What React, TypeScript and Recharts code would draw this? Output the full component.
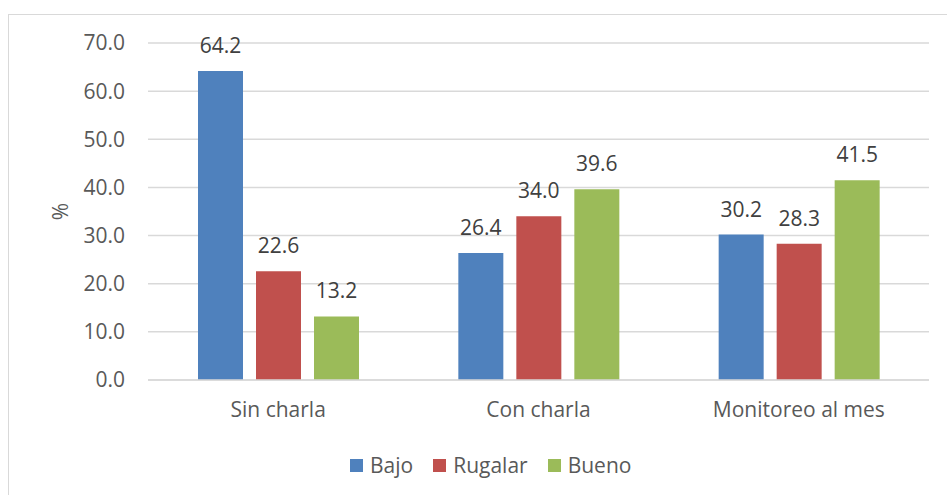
import React from 'react';
import { BarChart, Bar, XAxis, YAxis, CartesianGrid, Legend, LabelList } from 'recharts';

const categorias = ['Sin charla', 'Con charla', 'Monitoreo al mes'];
const bajo = [64.2, 26.4, 30.2];
const rugalar = [22.6, 34.0, 28.3];
const bueno = [13.2, 39.6, 41.5];
const ticksY = [0, 10, 20, 30, 40, 50, 60, 70];

const SERIES = [
  { key: 'bajo', name: 'Bajo', color: '#4f81bd' },
  { key: 'rugalar', name: 'Rugalar', color: '#c0504d' },
  { key: 'bueno', name: 'Bueno', color: '#9bbb59' },
];

const data = categorias.map((cat, i) => ({
  cat,
  bajo: bajo[i],
  rugalar: rugalar[i],
  bueno: bueno[i],
}));

const FONT = '"Open Sans", sans-serif';
const FS = 21;

const renderLegend = () => (
  <div style={{ display: 'flex', alignItems: 'center', paddingLeft: 350, height: 30, fontFamily: FONT, fontSize: FS, color: '#595959' }}>
    {SERIES.map((s) => (
      <div key={s.key} style={{ display: 'flex', alignItems: 'center', marginRight: 20 }}>
        <span style={{ width: 13, height: 13, background: s.color, marginRight: 7, display: 'inline-block' }} />
        <span>{s.name}</span>
      </div>
    ))}
  </div>
);

const PctLabel = (props: any) => {
  const vb = props.viewBox;
  const cy = vb.y + vb.height / 2;
  return (
    <text x={60} y={cy} transform={`rotate(-90 60 ${cy})`} textAnchor="middle" dominantBaseline="central"
      fontFamily={FONT} fontSize={FS} fill="#595959">%</text>
  );
};

export default function App() {
  return (
    <div style={{ position: 'absolute', left: 0, top: 0, width: 947, height: 495, overflow: 'hidden', background: '#fff' }}>
      <div style={{ position: 'absolute', left: 8, top: 14, width: 1000, height: 1000, border: '1px solid #d9d9d9' }} />
      <div style={{ position: 'absolute', left: 0, top: 0 }}>
        <BarChart width={947} height={495} data={data} barSize={45} barGap={13}
          margin={{ top: 43, right: 18, bottom: 55, left: 0 }}>
          <CartesianGrid vertical={false} stroke="#d9d9d9" strokeWidth={1.5} />
          <XAxis dataKey="cat" height={30} tickLine={false} axisLine={{ stroke: '#d9d9d9', strokeWidth: 1.5 }}
            tickMargin={16} tick={{ fill: '#595959', fontSize: FS, fontFamily: FONT }} />
          <YAxis width={148} domain={[0, 70]} ticks={ticksY} tickLine={false} axisLine={false} tickMargin={17}
            tickFormatter={(v: number) => v.toFixed(1)} tick={{ fill: '#595959', fontSize: FS, fontFamily: FONT }}
            label={<PctLabel />} />
          <Legend verticalAlign="bottom" content={renderLegend}
            wrapperStyle={{ top: 450, bottom: 'auto', left: 0, width: 947 }} />
          {SERIES.map((s) => (
            <Bar key={s.key} dataKey={s.key} name={s.name} fill={s.color} isAnimationActive={false}>
              <LabelList dataKey={s.key} position="top" offset={18} formatter={(v: number) => v.toFixed(1)}
                style={{ fill: '#404040', fontSize: FS, fontFamily: FONT }} />
            </Bar>
          ))}
        </BarChart>
      </div>
    </div>
  );
}
